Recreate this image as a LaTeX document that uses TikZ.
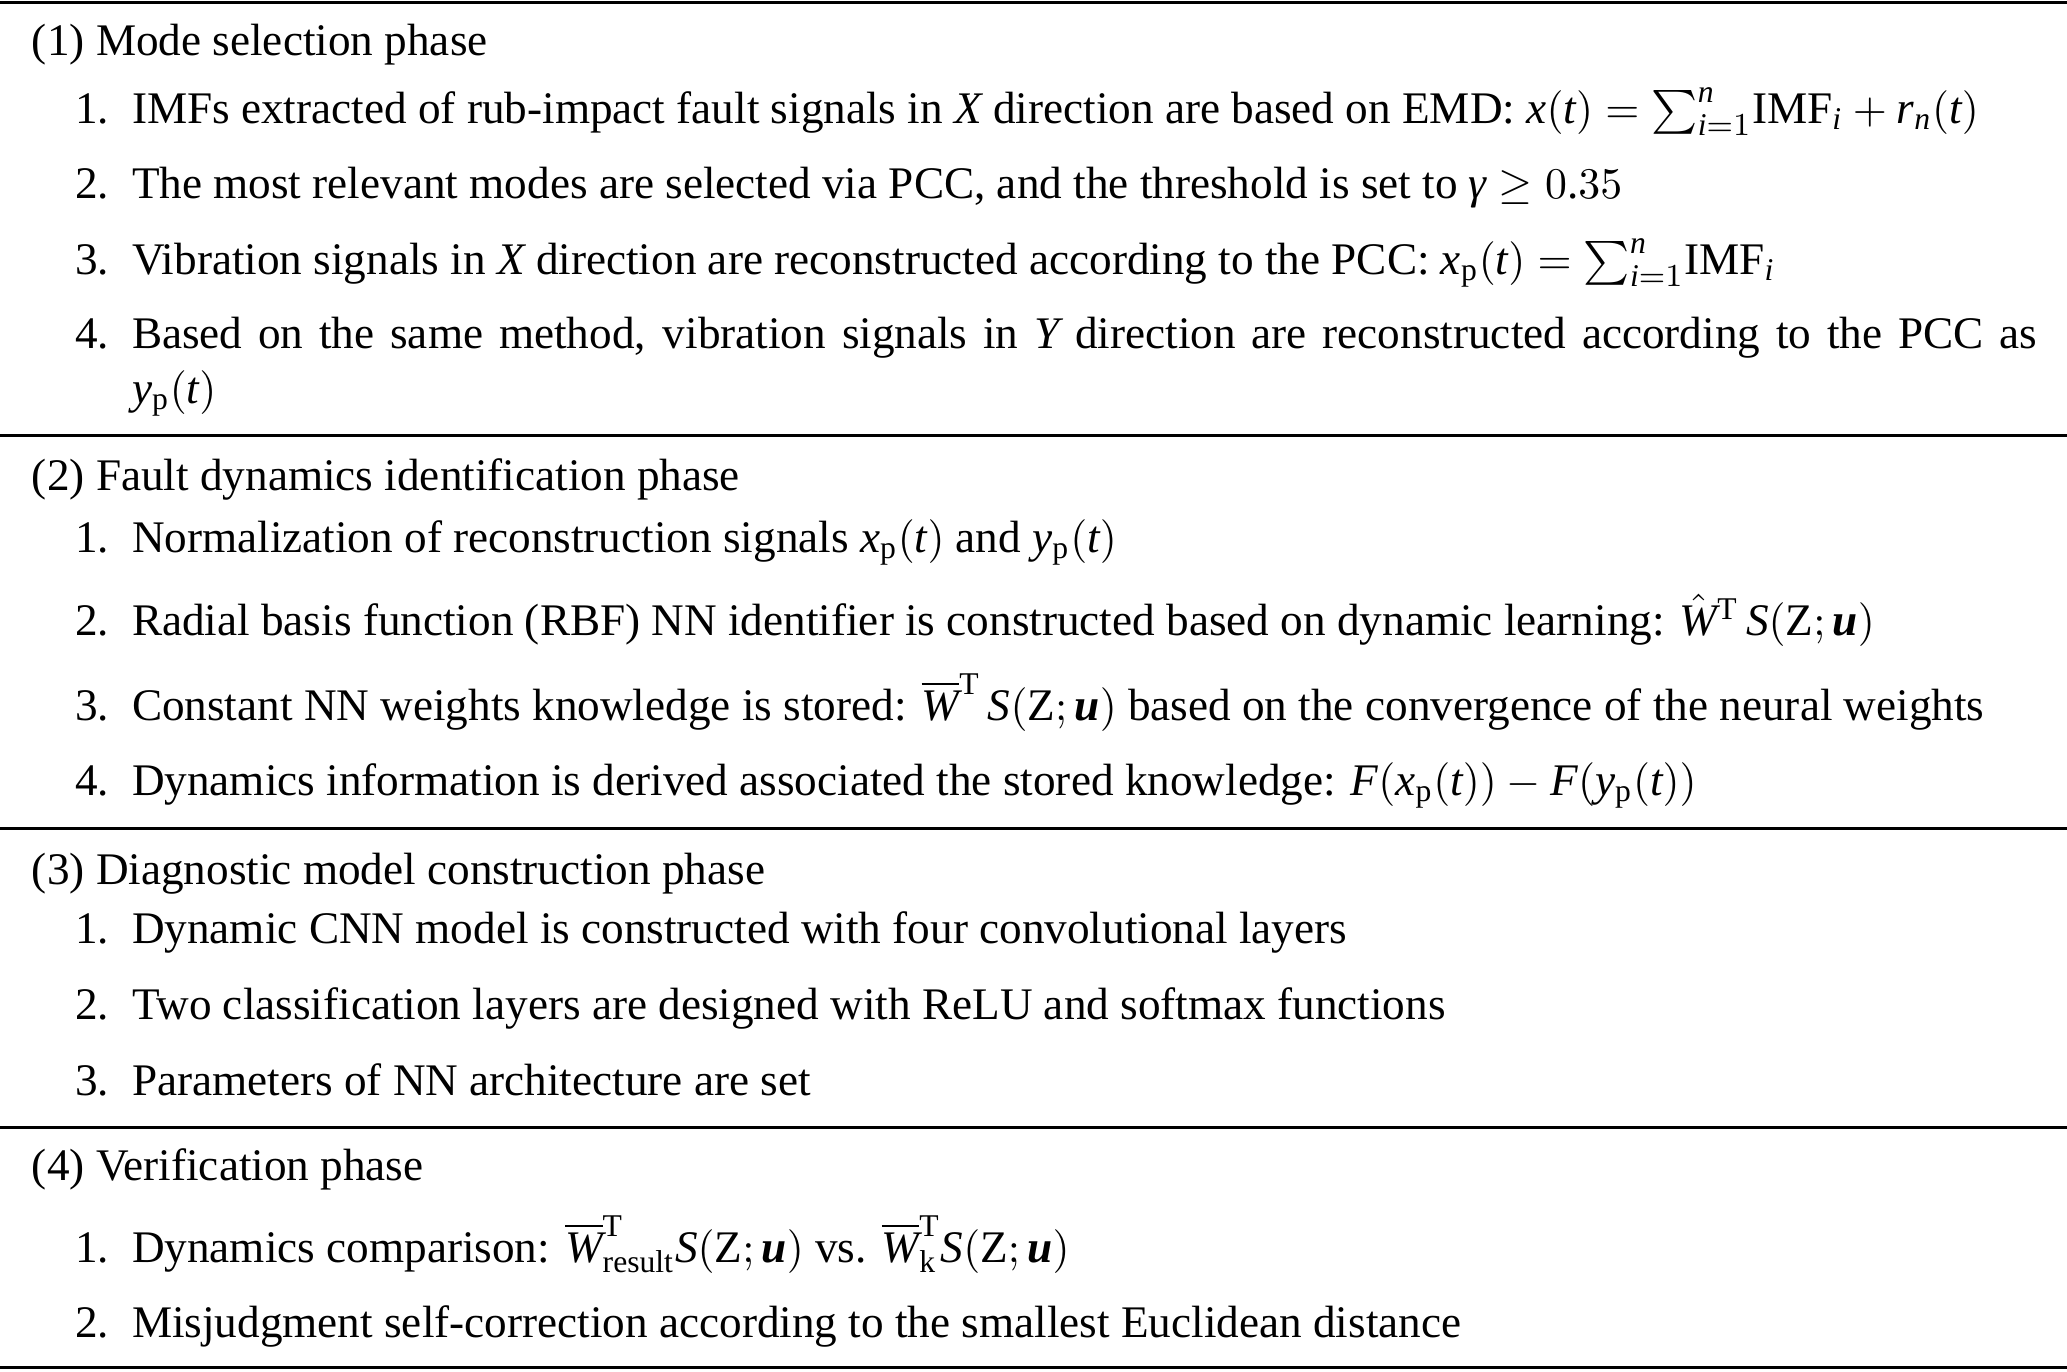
\documentclass[tikz,border=0pt]{standalone}
\usepackage{amsmath}
\usepackage{fontspec}
\setmainfont{Liberation Serif}
\edef\myfam{\rmdefault}
\DeclareSymbolFont{tlet}{TU}{\myfam}{m}{it}
\DeclareSymbolFont{tup}{TU}{\myfam}{m}{n}
\newcommand\deflet[1]{\DeclareMathSymbol{#1}{\mathalpha}{tlet}{`#1}}
\newcommand\defup[2]{\DeclareMathSymbol{#1}{#2}{tup}{`#1}}
\deflet x\deflet t\deflet n\deflet i\deflet r\deflet y\deflet W\deflet S\deflet F\deflet X\deflet Y
\defup 0\mathalpha\defup 1\mathalpha\defup 3\mathalpha\defup 5\mathalpha\defup .\mathord
\defup ;\mathpunct
\newcommand\bu{\text{\bfseries\itshape u}}
\newcommand\rmZ{\text{Z}}
\newcommand\sumin{{\sum_{i=1}^{n}}}
\tikzset{
  txt/.style={anchor=base west,inner sep=0pt,outer sep=0pt,font=\fontsize{11.3}{13.6}\selectfont},
  rulex/.style={line width=0.75pt}
}
\begin{document}
\begin{tikzpicture}[x=0.25pt,y=-0.25pt]
\useasboundingbox (0,0) rectangle (2067,1371);
% rules
\coordinate (r0a) at (0,2);    \coordinate (r0b) at (2067,2);
\coordinate (r1a) at (0,435);  \coordinate (r1b) at (2067,435);
\coordinate (r2a) at (0,828);  \coordinate (r2b) at (2067,828);
\coordinate (r3a) at (0,1127); \coordinate (r3b) at (2067,1127);
\coordinate (r4a) at (0,1367); \coordinate (r4b) at (2067,1367);
\foreach \r in {0,...,4} \draw[rulex] (r\r a) -- (r\r b);
% section 1
\node[txt] (h1) at (32,55) {(1) Mode selection phase};
\node[txt] (n11) at (75,123) {1.};
\node[txt] (t11) at (132,123) {IMFs extracted of rub-impact fault signals in $X$ direction are based on EMD: $x(t)=\sumin\mathrm{IMF}_i+r_n(t)$};
\node[txt] (n12) at (75,198) {2.};
\node[txt] (t12) at (132,198) {The most relevant modes are selected via PCC, and the threshold is set to \textit{γ} $\geq 0.35$};
\node[txt] (n13) at (75,274) {3.};
\node[txt] (t13) at (132,274) {Vibration signals in $X$ direction are reconstructed according to the PCC: $x_{\mathrm{p}}(t)=\sumin\mathrm{IMF}_i$};
\node[txt] (n14) at (75,348) {4.};
\node[txt] (t14) at (132,348) {\makebox[476.25pt][s]{Based on the same method, vibration signals in $Y$ direction are reconstructed according to the PCC as}};
\node[txt] (t14b) at (132,403) {$y_{\mathrm{p}}(t)$};
% section 2
\node[txt] (h2) at (32,490) {(2) Fault dynamics identification phase};
\node[txt] (n21) at (75,552) {1.};
\node[txt] (t21) at (132,552) {Normalization of reconstruction signals $x_{\mathrm{p}}(t)$ and $y_{\mathrm{p}}(t)$};
\node[txt] (n22) at (75,635) {2.};
\node[txt] (t22) at (132,635) {Radial basis function (RBF) NN identifier is constructed based on dynamic learning: $\hat{W}^{\mathrm{T}}\,S(\rmZ;\bu)$};
\node[txt] (n23) at (75,720) {3.};
\node[txt] (t23) at (132,720) {Constant NN weights knowledge is stored: $\overline{W}^{\mathrm{T}}\,S(\rmZ;\bu)$ based on the convergence of the neural weights};
\node[txt] (n24) at (75,795) {4.};
\node[txt] (t24) at (132,795) {Dynamics information is derived associated the stored knowledge: $F(x_{\mathrm{p}}(t))-F(y_{\mathrm{p}}(t))$};
% section 3
\node[txt] (h3) at (32,884) {(3) Diagnostic model construction phase};
\node[txt] (n31) at (75,943) {1.};
\node[txt] (t31) at (132,943) {Dynamic CNN model is constructed with four convolutional layers};
\node[txt] (n32) at (75,1019) {2.};
\node[txt] (t32) at (132,1019) {Two classification layers are designed with ReLU and softmax functions};
\node[txt] (n33) at (75,1095) {3.};
\node[txt] (t33) at (132,1095) {Parameters of NN architecture are set};
% section 4
\node[txt] (h4) at (32,1180) {(4) Verification phase};
\node[txt] (n41) at (75,1262) {1.};
\node[txt] (t41) at (132,1262) {Dynamics comparison: $\overline{W}^{\mathrm{T}}_{\mathrm{result}}S(\rmZ;\bu)$ vs. $\overline{W}^{\mathrm{T}}_{\mathrm{k}}S(\rmZ;\bu)$};
\node[txt] (n42) at (75,1337) {2.};
\node[txt] (t42) at (132,1337) {Misjudgment self-correction according to the smallest Euclidean distance};
\end{tikzpicture}
\end{document}
